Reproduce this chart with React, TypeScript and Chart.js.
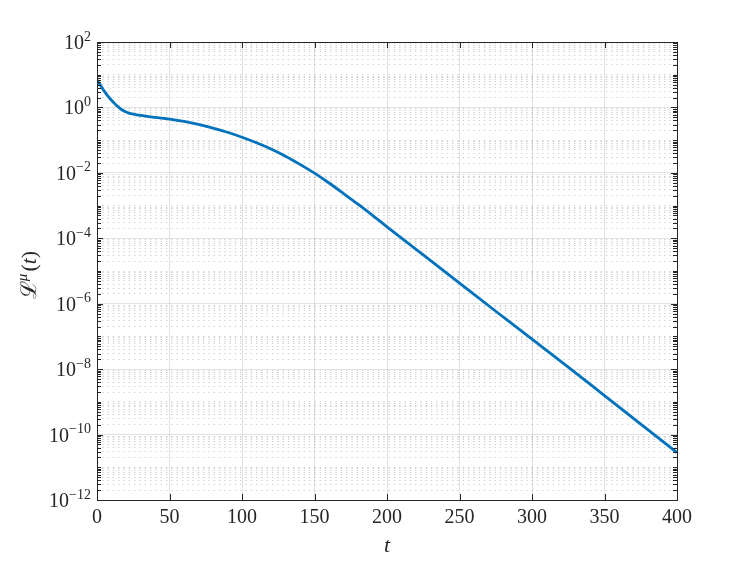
import React, { useEffect, useRef } from "react";
import { Chart, registerables } from "chart.js";

Chart.register(...registerables);

// time samples t
const T_VALUES = [0, 2, 4, 6, 8, 10, 12, 14, 16, 18, 20, 22, 25, 30, 40, 50, 60, 70, 80, 90, 100, 110, 120, 130, 140, 150, 160, 170, 180, 190, 200, 225, 250, 275, 300, 325, 350, 375, 400];
// loss L^mu(t)
const LOSS_VALUES = [6.92, 5.01, 3.67, 2.75, 2.11, 1.66, 1.33, 1.1, 0.923, 0.804, 0.724, 0.673, 0.624, 0.569, 0.495, 0.437, 0.372, 0.302, 0.234, 0.174, 0.123, 0.0832, 0.0537, 0.0324, 0.0182, 0.00977, 0.0049, 0.00234, 0.0011, 5.01e-4, 2.24e-4, 3.09e-5, 4.27e-6, 5.89e-7, 8.32e-8, 1.15e-8, 1.55e-9, 2.09e-10, 2.82e-11];

const X_TICKS = [0, 50, 100, 150, 200, 250, 300, 350, 400];
const Y_LABEL_EXPONENTS = [2, 0, -2, -4, -6, -8, -10, -12];
const Y_MIN = 1e-12;
const Y_MAX = 1e2;
const X_MIN = 0;
const X_MAX = 400;

const Y_TICK_VALUES: number[] = (() => {
  const out: number[] = [];
  for (let e = -12; e < 2; e++) {
    for (let m = 1; m <= 9; m++) out.push(m * Math.pow(10, e));
  }
  out.push(100);
  return out;
})();

const TEXT = "#262626";
const SERIF = '"Liberation Serif", "DejaVu Serif", serif';

function isMajorY(v: number) {
  const l = Math.log10(v);
  const r = Math.round(l);
  return Math.abs(l - r) < 1e-6 && Y_LABEL_EXPONENTS.includes(r);
}

const matlabAxes = {
  id: "matlabAxes",
  afterDraw(chart: any) {
    const { ctx, chartArea: a, scales } = chart;
    const xs = scales.x;
    const ys = scales.y;
    ctx.save();
    ctx.strokeStyle = TEXT;
    ctx.lineWidth = 1;
    ctx.beginPath();
    for (const t of X_TICKS) {
      const px = Math.round(xs.getPixelForValue(t)) + 0.5;
      ctx.moveTo(px, a.bottom);
      ctx.lineTo(px, a.bottom - 6);
      ctx.moveTo(px, a.top);
      ctx.lineTo(px, a.top + 6);
    }
    for (const v of Y_TICK_VALUES) {
      const py = Math.round(ys.getPixelForValue(v)) + 0.5;
      const len = isMajorY(v) ? 6 : 4;
      ctx.moveTo(a.left, py);
      ctx.lineTo(a.left + len, py);
      ctx.moveTo(a.right, py);
      ctx.lineTo(a.right - len, py);
    }
    ctx.stroke();
    ctx.strokeRect(
      Math.round(a.left) + 0.5,
      Math.round(a.top) + 0.5,
      Math.round(a.right - a.left),
      Math.round(a.bottom - a.top)
    );

    ctx.fillStyle = TEXT;
    // x tick labels
    ctx.font = `20px ${SERIF}`;
    ctx.textAlign = "center";
    ctx.textBaseline = "alphabetic";
    for (const t of X_TICKS) {
      const px = xs.getPixelForValue(t);
      ctx.fillText(String(t), px, a.bottom + 23);
    }
    // y tick labels 10^e
    ctx.textAlign = "left";
    const rightEdge = a.left - 6;
    for (const e of Y_LABEL_EXPONENTS) {
      const py = ys.getPixelForValue(Math.pow(10, e));
      const ex = e < 0 ? "\u2212" + String(-e) : String(e);
      ctx.font = `14px ${SERIF}`;
      const we = ctx.measureText(ex).width;
      ctx.fillText(ex, rightEdge - we, py - 1.5);
      ctx.font = `20px ${SERIF}`;
      const wb = ctx.measureText("10").width;
      ctx.fillText("10", rightEdge - we - wb, py + 7);
    }
    // x title
    ctx.font = `italic 22px ${SERIF}`;
    ctx.textAlign = "center";
    ctx.fillText("t", (a.left + a.right) / 2, a.bottom + 52);

    // y title: L^mu(t)
    ctx.save();
    ctx.translate(36, (a.top + a.bottom) / 2 + 4);
    ctx.rotate(-Math.PI / 2);
    ctx.textAlign = "left";
    const parts = [
      { s: "\u2112", f: `22px ${SERIF}`, dy: 0 },
      { s: "\u03bc", f: `italic 15px ${SERIF}`, dy: -9 },
      { s: "(", f: `22px ${SERIF}`, dy: 0 },
      { s: "t", f: `italic 22px ${SERIF}`, dy: 0 },
      { s: ")", f: `22px ${SERIF}`, dy: 0 },
    ];
    let total = 0;
    const widths: number[] = [];
    for (const p of parts) {
      ctx.font = p.f;
      const w = ctx.measureText(p.s).width + (p.s === "\u03bc" ? 2 : 0);
      widths.push(w);
      total += w;
    }
    let x = -total / 2;
    parts.forEach((p, i) => {
      ctx.font = p.f;
      ctx.fillText(p.s, x, p.dy);
      x += widths[i];
    });
    ctx.restore();
    ctx.restore();
  },
};

export default function App() {
  const ref = useRef<HTMLCanvasElement | null>(null);
  useEffect(() => {
    if (!ref.current) return;
    const points = T_VALUES.map((t, i) => ({ x: t, y: LOSS_VALUES[i] }));
    const chart = new Chart(ref.current, {
      type: "line",
      data: {
        datasets: [
          {
            data: points,
            borderColor: "#0072BD",
            borderWidth: 2.8,
            pointRadius: 0,
            fill: false,
            cubicInterpolationMode: "monotone",
          },
        ],
      },
      options: {
        animation: false,
        responsive: false,
        devicePixelRatio: 1,
        layout: { padding: { left: 97, top: 42, right: 70, bottom: 61 } },
        plugins: { legend: { display: false }, tooltip: { enabled: false } },
        scales: {
          x: {
            type: "linear",
            min: X_MIN,
            max: X_MAX,
            ticks: { display: false, stepSize: 50 },
            grid: { color: "rgba(38,38,38,0.13)", lineWidth: 1, drawTicks: false },
            border: { display: false },
            afterFit: (s: any) => {
              s.height = 0;
            },
          },
          y: {
            type: "logarithmic",
            min: Y_MIN,
            max: Y_MAX,
            ticks: { display: false },
            afterBuildTicks: (s: any) => {
              s.ticks = Y_TICK_VALUES.map((v) => ({ value: v }));
            },
            grid: {
              drawTicks: false,
              lineWidth: 1,
              color: (c: any) =>
                c.tick && isMajorY(c.tick.value) ? "rgba(38,38,38,0.13)" : "rgba(38,38,38,0.22)",
            },
            border: {
              display: false,
              dash: (c: any) => (c.tick && isMajorY(c.tick.value) ? [] : [1.4, 3.9]),
            },
            afterFit: (s: any) => {
              s.width = 0;
            },
          },
        },
      },
      plugins: [matlabAxes],
    } as any);
    return () => chart.destroy();
  }, []);
  return (
    <div style={{ position: "absolute", left: 0, top: 0, width: 747, height: 561, background: "#fff" }}>
      <canvas ref={ref} width={747} height={561} style={{ display: "block" }} />
    </div>
  );
}
